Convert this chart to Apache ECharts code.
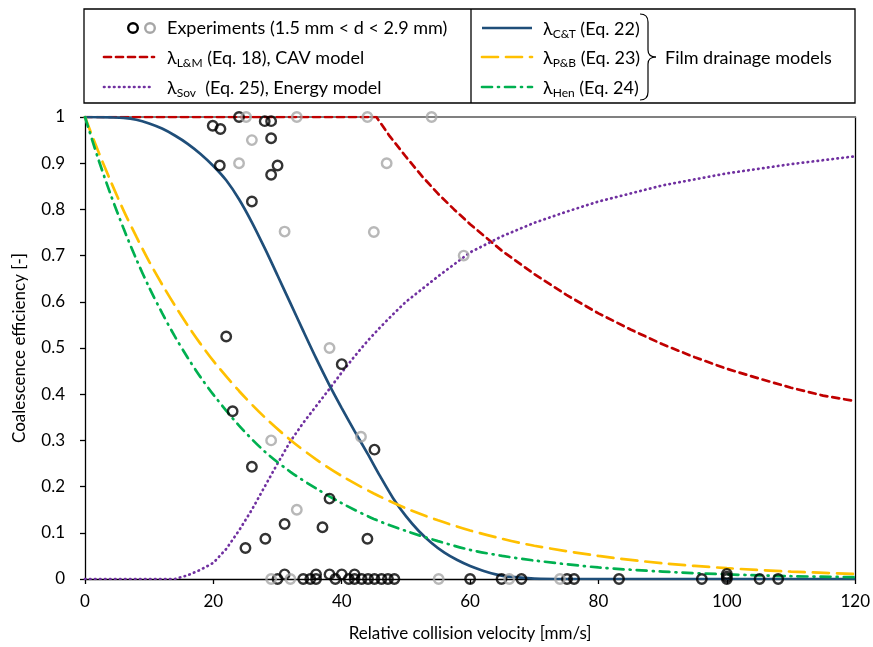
<!DOCTYPE html>
<html>
<head>
<meta charset="utf-8">
<script src="https://cdn.jsdelivr.net/npm/echarts@6/dist/echarts.min.js"></script>
<style>
  html, body { margin: 0; padding: 0; background: #fff; }
  #chart { width: 873px; height: 647px; }
</style>
</head>
<body>
<div id="chart"></div>
<script>
// experiments, black and grey circles [velocity mm/s, efficiency]
var expBlack = [
  [24, 1], [19.9, 0.981], [21.1, 0.974], [28, 0.991], [29, 0.991], [29, 0.954],
  [21, 0.895], [30, 0.895], [29, 0.875], [26, 0.817], [22, 0.525], [40, 0.465],
  [23, 0.363], [45.1, 0.28], [26, 0.243], [38.1, 0.174], [31.1, 0.119], [37, 0.112],
  [44, 0.087], [28.1, 0.087], [25, 0.067],
  [30, 0], [31.1, 0.01], [34, 0], [35.1, 0], [36, 0], [36, 0.01], [38.1, 0.01],
  [39, 0], [40, 0.01], [41.1, 0], [42, 0.01], [42, 0], [43.1, 0], [44.1, 0],
  [45.1, 0], [46.2, 0], [47.2, 0], [48.2, 0], [60, 0], [64.9, 0], [68, 0],
  [75.1, 0], [76.2, 0], [83.2, 0], [96.1, 0], [100, 0.011], [100, 0.005], [100, 0],
  [105.1, 0], [108, 0]
];
var expGrey = [
  [25.1, 1], [33, 1], [44, 1], [54, 1], [26, 0.95], [24, 0.9], [47, 0.9],
  [31.1, 0.752], [45, 0.751], [59, 0.7], [38.1, 0.5], [43, 0.308], [29, 0.3],
  [33, 0.15], [29, 0], [32, 0], [55.1, 0], [66.1, 0], [74, 0]
];

// model curves
var lamLM = [
  [0, 1], [20, 1], [40, 1], [45.4, 1], [47.5, 0.958], [50, 0.914], [52.5, 0.872],
  [55, 0.834], [57.5, 0.8], [60, 0.768], [65, 0.71], [70, 0.66], [75, 0.615],
  [80, 0.575], [85, 0.54], [90, 0.508], [95, 0.48], [100, 0.455], [105, 0.434],
  [110, 0.414], [115, 0.397], [120, 0.385]
];
var lamSov = [
  [0, 0], [10, 0], [14, 0], [16, 0.008], [18, 0.02], [20, 0.035], [22, 0.065],
  [24, 0.105], [26, 0.15], [28, 0.2], [30, 0.25], [32, 0.298], [34, 0.338],
  [36, 0.374], [38, 0.41], [40, 0.447], [42, 0.482], [44, 0.515], [46, 0.545],
  [48, 0.573], [50, 0.6], [55, 0.655], [60, 0.707], [65, 0.742], [70, 0.771],
  [75, 0.795], [80, 0.817], [90, 0.852], [100, 0.878], [110, 0.898], [120, 0.915]
];
var lamCT = [
  [0, 1], [4, 0.999], [6, 0.998], [8, 0.994], [10, 0.986], [12, 0.975], [14, 0.96],
  [16, 0.942], [18, 0.92], [20, 0.894], [22, 0.863], [24, 0.822], [26, 0.772],
  [28, 0.716], [30, 0.657], [32, 0.597], [34, 0.537], [36, 0.478], [38, 0.422],
  [40, 0.37], [42, 0.32], [44, 0.272], [46, 0.222], [48, 0.175], [50, 0.136],
  [52, 0.104], [54, 0.078], [56, 0.057], [58, 0.041], [60, 0.028], [62, 0.018],
  [64, 0.01], [66, 0.005], [70, 0.001], [75, 0], [120, 0]
];
var lamPB = [
  [0, 1], [2, 0.928], [4, 0.861], [6, 0.798], [8, 0.741], [10, 0.687], [12, 0.638],
  [14, 0.592], [16, 0.549], [18, 0.509], [20, 0.472], [24, 0.407], [28, 0.35],
  [32, 0.301], [36, 0.259], [40, 0.223], [45, 0.185], [50, 0.153], [55, 0.127],
  [60, 0.105], [65, 0.087], [70, 0.072], [80, 0.05], [90, 0.034], [100, 0.0235],
  [110, 0.016], [120, 0.011]
];
var lamHen = [
  [0, 1], [2, 0.912], [4, 0.832], [6, 0.759], [8, 0.692], [10, 0.631], [12, 0.576],
  [14, 0.525], [16, 0.479], [18, 0.437], [20, 0.399], [24, 0.332], [28, 0.276],
  [32, 0.232], [36, 0.196], [40, 0.164], [45, 0.13], [50, 0.104], [55, 0.082],
  [60, 0.063], [65, 0.05], [70, 0.04], [80, 0.025], [90, 0.016], [100, 0.01],
  [110, 0.006], [120, 0.004]
];

var FONT = 'Lato, "Noto Sans", sans-serif';

var chart = echarts.init(document.getElementById('chart'));

function lineSeries(name, data, color, dash, smooth) {
  return {
    name: name, type: 'line', data: data, showSymbol: false, silent: true,
    smooth: smooth || false, z: 3,
    lineStyle: { color: color, width: 2.7, type: dash, cap: dash === 'solid' ? 'butt' : 'round' }
  };
}

function circleSeries(name, data, color) {
  return {
    name: name, type: 'scatter', data: data, symbol: 'circle', symbolSize: 9.5, z: 4,
    itemStyle: { color: 'rgba(0,0,0,0)', borderColor: color, borderWidth: 2.4 }
  };
}

// legend drawn by hand: box, divider, samples, labels, brace
var rich = {
  n: { fontSize: 18, fontFamily: FONT, lineHeight: 22, color: '#000' },
  s: { fontSize: 12, fontFamily: FONT, lineHeight: 13, verticalAlign: 'bottom', color: '#000' }
};
function legText(x, y, str) {
  return {
    type: 'text', x: x, y: y,
    style: { text: str, rich: rich, font: '18px ' + FONT, fill: '#000', verticalAlign: 'middle' }
  };
}
function legLine(x1, x2, y, color, dash) {
  return {
    type: 'line', shape: { x1: x1, y1: y, x2: x2, y2: y },
    style: { stroke: color, lineWidth: 2.7, lineDash: dash, lineCap: dash ? 'round' : 'butt' }
  };
}
function legCircle(x, y, color) {
  return {
    type: 'circle', shape: { cx: x, cy: y, r: 4.8 },
    style: { fill: 'none', stroke: color, lineWidth: 2.4 }
  };
}
var braceStyle = { fill: 'none', stroke: '#000', lineWidth: 1.2 };
function braceCurve(x1, y1, cx, cy, x2, y2) {
  return { type: 'bezierCurve', shape: { x1: x1, y1: y1, cpx1: cx, cpy1: cy, x2: x2, y2: y2 }, style: braceStyle };
}
function braceLine(x1, y1, x2, y2) {
  return { type: 'line', shape: { x1: x1, y1: y1, x2: x2, y2: y2 }, style: braceStyle };
}

var legendGraphics = [
  { type: 'rect', shape: { x: 84, y: 9, width: 771, height: 94 }, style: { fill: 'none', stroke: '#000', lineWidth: 1.3 } },
  { type: 'line', shape: { x1: 471, y1: 9, x2: 471, y2: 103 }, style: { stroke: '#000', lineWidth: 1.3 } },
  legCircle(133, 28, '#000'),
  legCircle(150, 28, '#a6a6a6'),
  legText(167, 28, 'Experiments (1.5 mm < d < 2.9 mm)'),
  legLine(104, 154, 57, '#c00000', [7, 5]),
  legText(167, 58, '{n|λ}{s|L&M}{n| (Eq. 18), CAV model}'),
  legLine(104, 154, 87, '#7030a0', [0.5, 4.5]),
  legText(167, 88, '{n|λ}{s|Sov}{n|  (Eq. 25), Energy model}'),
  legLine(482, 532, 28, '#1f4e79', null),
  legText(543, 29, '{n|λ}{s|C&T}{n| (Eq. 22)}'),
  legLine(482, 532, 57, '#ffc000', [16, 8]),
  legText(543, 58, '{n|λ}{s|P&B}{n| (Eq. 23)}'),
  legLine(482, 532, 87, '#00b050', [10, 6, 1, 6]),
  legText(543, 88, '{n|λ}{s|Hen}{n| (Eq. 24)}'),
  braceCurve(640, 14, 648, 14, 648, 22),
  braceLine(648, 22, 648, 50),
  braceCurve(648, 50, 648, 57, 656, 57),
  braceCurve(656, 57, 648, 57, 648, 64),
  braceLine(648, 64, 648, 92),
  braceCurve(648, 92, 648, 100, 640, 100),
  legText(665, 58, 'Film drainage models')
];

chart.setOption({
  animation: false,
  backgroundColor: '#fff',
  textStyle: { fontFamily: FONT },
  grid: { left: 85, right: 16, top: 117, bottom: 65, containLabel: false },
  xAxis: [{
    type: 'value', min: 0, max: 120, interval: 20,
    name: 'Relative collision velocity [mm/s]', nameLocation: 'middle', nameGap: 46,
    nameTextStyle: { fontSize: 17, color: '#000', fontFamily: FONT },
    axisLine: { lineStyle: { color: '#000', width: 1.3 } },
    axisTick: { show: true, inside: false, length: 5, lineStyle: { color: '#000', width: 1.3 } },
    axisLabel: { fontSize: 17, color: '#000', margin: 14, fontFamily: FONT },
    splitLine: { show: false }
  }, {
    type: 'value', min: 0, max: 120, position: 'top',
    axisLine: { onZero: false, lineStyle: { color: '#808080', width: 2 } },
    axisTick: { show: false }, axisLabel: { show: false }, splitLine: { show: false }
  }],
  yAxis: [{
    type: 'value', min: 0, max: 1, interval: 0.1,
    name: 'Coalescence efficiency [-]', nameLocation: 'middle', nameGap: 57, nameRotate: 90,
    nameTextStyle: { fontSize: 17, color: '#000', fontFamily: FONT },
    axisLine: { show: true, lineStyle: { color: '#000', width: 1.3 } },
    axisTick: { show: true, inside: false, length: 5, lineStyle: { color: '#000', width: 1.3 } },
    axisLabel: { fontSize: 17, color: '#000', margin: 20, fontFamily: FONT },
    splitLine: { show: false }
  }, {
    type: 'value', min: 0, max: 1, position: 'right',
    axisLine: { show: true, onZero: false, lineStyle: { color: '#000', width: 1.3 } },
    axisTick: { show: false }, axisLabel: { show: false }, splitLine: { show: false }
  }],
  series: [
    lineSeries('λL&M', lamLM, '#c00000', [7, 5], false),
    lineSeries('λSov', lamSov, '#7030a0', [0.5, 4.5], false),
    lineSeries('λC&T', lamCT, '#1f4e79', 'solid', 0.3),
    lineSeries('λP&B', lamPB, '#ffc000', [16, 8], 0.3),
    lineSeries('λHen', lamHen, '#00b050', [10, 6, 1, 6], 0.3),
    circleSeries('Experiments', expBlack, '#000'),
    circleSeries('Experiments grey', expGrey, '#a6a6a6')
  ],
  graphic: legendGraphics
});
</script>
</body>
</html>
